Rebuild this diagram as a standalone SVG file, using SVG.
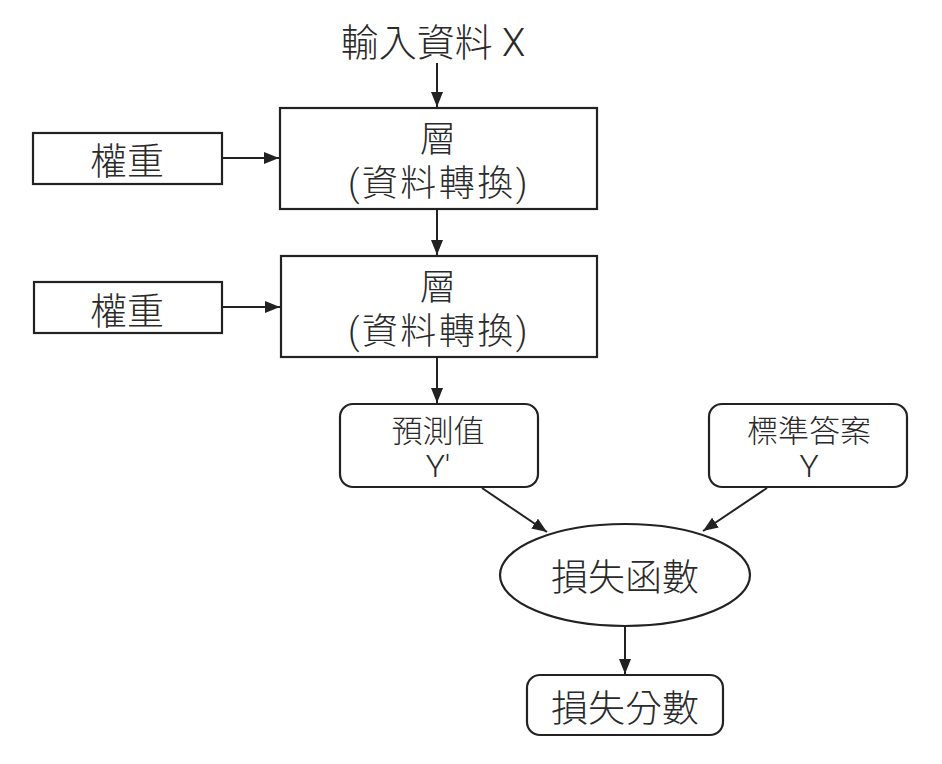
<svg xmlns="http://www.w3.org/2000/svg" width="942" height="764" viewBox="0 0 942 764">
<defs>
<marker id="ah" markerUnits="userSpaceOnUse" markerWidth="16" markerHeight="12" refX="15" refY="6" orient="auto">
<path d="M0,0 L15,6 L0,12 Z" fill="#222"/>
</marker>
<style>
.box{fill:#fff;stroke:#222;stroke-width:2.2}
.t{font-family:Roboto,"Noto Sans CJK TC",sans-serif;font-weight:300;fill:#2a2a2a;text-anchor:middle}
.sp{letter-spacing:2.5px}
.conn{stroke:#222;stroke-width:2;fill:none;marker-end:url(#ah)}
</style>
</defs>
<rect width="942" height="764" fill="#fff"/>
<g id="input"><text class="t" x="433" y="56" font-size="38">輸入資料 X</text></g>
<g id="layer1"><rect class="box" x="280" y="108" width="317" height="101"/>
<text class="t" x="438" y="152" font-size="36">層</text>
<text class="t sp" x="439" y="196" font-size="36">(資料轉換)</text></g>
<g id="layer2"><rect class="box" x="281" y="256" width="316" height="101"/>
<text class="t" x="438" y="300" font-size="36">層</text>
<text class="t sp" x="439" y="344" font-size="36">(資料轉換)</text></g>
<g id="weight1"><rect class="box" x="33" y="133" width="189" height="51"/>
<text class="t" x="127" y="175" font-size="37">權重</text></g>
<g id="weight2"><rect class="box" x="34" y="282" width="188" height="51"/>
<text class="t" x="127" y="325" font-size="37">權重</text></g>
<g id="pred"><rect class="box" x="340" y="404" width="198" height="83" rx="13"/>
<text class="t" x="438" y="442" font-size="31">預測值</text>
<text class="t" x="438" y="477" font-size="32">Y'</text></g>
<g id="truth"><rect class="box" x="709" y="404" width="198" height="83" rx="13"/>
<text class="t" x="809" y="442" font-size="31">標準答案</text>
<text class="t" x="809" y="477" font-size="32">Y</text></g>
<g id="loss"><ellipse class="box" cx="625" cy="575" rx="125" ry="51"/>
<text class="t" x="625" y="591" font-size="37">損失函數</text></g>
<g id="score"><rect class="box" x="527" y="675" width="196" height="60" rx="13"/>
<text class="t" x="625" y="722" font-size="37">損失分數</text></g>
<g id="connectors">
<line class="conn" x1="437" y1="63" x2="437" y2="107"/>
<line class="conn" x1="222" y1="158" x2="279" y2="158"/>
<line class="conn" x1="437" y1="210" x2="437" y2="255"/>
<line class="conn" x1="222" y1="307" x2="280" y2="307"/>
<line class="conn" x1="437" y1="358" x2="437" y2="403"/>
<line class="conn" x1="482" y1="488" x2="547" y2="532"/>
<line class="conn" x1="767" y1="488" x2="703" y2="531"/>
<line class="conn" x1="625" y1="627" x2="625" y2="674"/>
</g>
</svg>
